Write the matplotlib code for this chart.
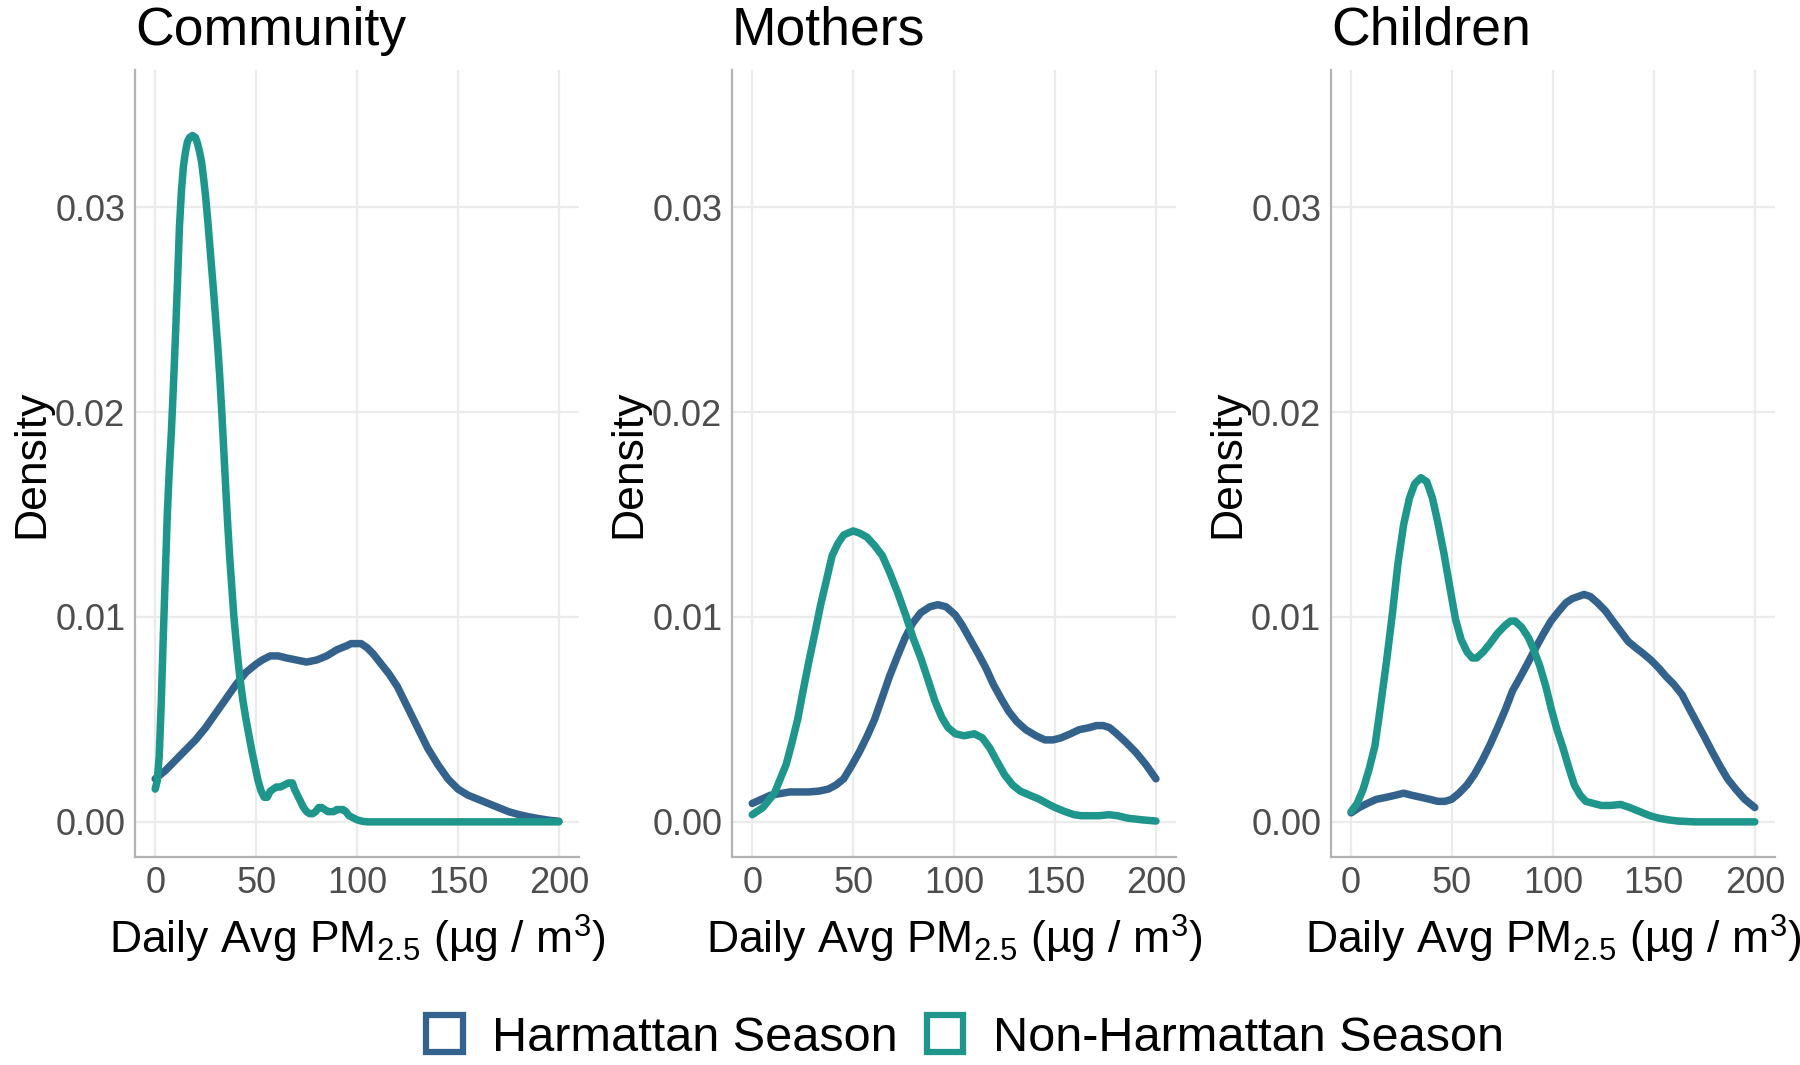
import matplotlib
matplotlib.use("Agg")
from matplotlib import pyplot as plt
from matplotlib.patches import Patch

plt.rcParams['font.family'] = ['Liberation Sans', 'DejaVu Sans']
plt.rcParams['mathtext.fontset'] = 'custom'
plt.rcParams['mathtext.rm'] = 'Liberation Sans'
plt.rcParams['mathtext.it'] = 'Liberation Sans:italic'

# density curves (x = PM2.5, y = density)
panels = ['Community', 'Mothers', 'Children']
seasons = ['Harmattan Season', 'Non-Harmattan Season']
colors = ['#33638D', '#1F968B']

community_harm_x = [0, 5, 10, 15, 20, 25, 30, 35, 40, 45, 50, 53, 57, 61, 65, 70, 75, 80, 85,
                    90, 95, 97, 100, 102, 105, 108, 112, 116, 120, 125, 130, 135, 140, 145, 150,
                    155, 160, 165, 170, 175, 180, 185, 190, 195, 200]
community_harm_y = [0.0021, 0.0025, 0.0030, 0.0035, 0.0040, 0.0046, 0.0053, 0.0060, 0.0067,
                    0.0073, 0.0077, 0.0079, 0.0081, 0.0081, 0.0080, 0.0079, 0.0078, 0.0079,
                    0.0081, 0.0084, 0.0086, 0.0087, 0.0087, 0.0087, 0.0085, 0.0082, 0.0077,
                    0.0072, 0.0066, 0.0056, 0.0046, 0.0036, 0.0028, 0.0021, 0.0016, 0.0013,
                    0.0011, 0.0009, 0.0007, 0.0005, 0.00036, 0.00025, 0.00016, 0.00008, 0.00003]
community_non_x = [0, 1, 2, 3, 4, 5, 6, 7, 8, 9, 10, 11, 12, 13, 14, 15, 16, 17, 18.5, 20, 21,
                   22, 23, 24, 25, 26, 27, 28, 29, 30, 31, 32, 33, 34, 35, 36, 37, 38, 39, 40.5,
                   42, 43.5, 45, 46.5, 48, 49.5, 51, 52.5, 54, 55.5, 57, 58.5, 60, 62, 64, 66,
                   67, 68, 69, 70.5, 72, 73.5, 75, 76.5, 78, 79.5, 81, 82.5, 84, 85.5, 87, 88.5,
                   90, 91.5, 93, 94.5, 96, 98, 100, 102.5, 105, 120, 150, 200]
community_non_y = [0.0016, 0.0020, 0.0032, 0.0058, 0.0090, 0.0120, 0.0150, 0.0172, 0.0190,
                   0.0212, 0.0236, 0.0262, 0.0290, 0.0308, 0.0320, 0.0327, 0.0332, 0.0334,
                   0.0335, 0.0334, 0.0331, 0.0327, 0.0322, 0.0314, 0.0305, 0.0294, 0.0282,
                   0.0270, 0.0258, 0.0245, 0.0232, 0.0217, 0.0200, 0.0181, 0.0162, 0.0144,
                   0.0128, 0.0114, 0.0100, 0.0084, 0.0070, 0.0059, 0.0050, 0.0042, 0.0034,
                   0.0027, 0.0020, 0.0015, 0.0012, 0.0012, 0.0015, 0.0016, 0.0017, 0.0017,
                   0.0018, 0.0019, 0.0019, 0.0019, 0.0016, 0.0013, 0.0010, 0.0007, 0.0005,
                   0.0004, 0.0004, 0.0005, 0.0007, 0.0007, 0.0006, 0.0005, 0.0005, 0.0005,
                   0.0006, 0.0006, 0.0006, 0.0005, 0.0003, 0.0002, 0.0001, 0.00003, 0.0, 0.0,
                   0.0, 0.0]

mothers_harm_x = [0, 9, 18.7, 28, 33, 37.7, 41.5, 45.3, 49, 53, 57, 60.6, 64.5, 68, 72, 75.8,
                  79.5, 83.4, 88, 92, 96, 100.6, 104, 108, 112, 115.8, 119.5, 123.4, 127, 131,
                  135.5, 140.6, 145, 149, 153, 157.7, 162, 167, 170.5, 173.9, 177, 180.6, 185,
                  190, 195, 200]
mothers_harm_y = [0.0009, 0.0013, 0.00146, 0.00146, 0.0015, 0.0016, 0.0018, 0.0021, 0.0027,
                  0.0034, 0.0042, 0.0050, 0.0061, 0.0071, 0.0081, 0.0090, 0.0097, 0.0102,
                  0.0105, 0.0106, 0.0105, 0.0101, 0.0096, 0.0089, 0.0082, 0.0075, 0.0067,
                  0.0060, 0.0054, 0.0049, 0.0045, 0.0042, 0.0040, 0.0040, 0.0041, 0.0043,
                  0.0045, 0.0046, 0.0047, 0.0047, 0.0046, 0.0043, 0.0039, 0.0034, 0.0028,
                  0.0021]
mothers_non_x = [0, 5.3, 11, 16.8, 19.5, 22.5, 25, 28, 31, 33.9, 37, 39.6, 42.5, 45.3, 47.5,
                 50, 53, 56.8, 60.5, 64.4, 68, 72, 76, 79.6, 83.5, 87.2, 90.5, 93.9, 97, 100.6,
                 105, 110, 114, 117.7, 121, 125, 129, 132.8, 137.5, 142.3, 146, 150, 155,
                 159.4, 163, 167, 172, 176.6, 181, 186, 193, 200]
mothers_non_y = [0.00035, 0.0007, 0.0014, 0.0028, 0.0038, 0.0050, 0.0063, 0.0078, 0.0092,
                 0.0106, 0.0119, 0.0130, 0.0136, 0.0140, 0.0141, 0.0142, 0.0141, 0.0139,
                 0.0135, 0.0130, 0.0122, 0.0112, 0.0101, 0.0090, 0.0080, 0.0069, 0.0059,
                 0.0051, 0.0046, 0.0043, 0.0042, 0.0043, 0.0041, 0.0036, 0.0030, 0.0023,
                 0.0018, 0.0015, 0.0013, 0.0011, 0.0009, 0.0007, 0.0005, 0.00035, 0.0003,
                 0.0003, 0.0003, 0.00035, 0.0003, 0.00018, 0.0001, 0.00004]

children_harm_x = [0, 4, 8, 12.5, 17.5, 22, 26, 30, 34.6, 39, 43, 46.5, 49.8, 53.5, 57.4, 61,
                   65, 69, 72.6, 76.5, 80, 84, 87.8, 91.5, 95.4, 99, 103, 106.5, 109.7, 112.5,
                   115.4, 118.5, 122, 126, 129.7, 133.5, 137.3, 141, 144.9, 148.5, 152.5, 156,
                   160, 164, 167.7, 171.5, 175.3, 179, 182.9, 186.5, 190.5, 195, 200]
children_harm_y = [0.00044, 0.0007, 0.0009, 0.0011, 0.0012, 0.0013, 0.0014, 0.0013, 0.0012,
                   0.0011, 0.0010, 0.0010, 0.0011, 0.0014, 0.0018, 0.0023, 0.0030, 0.0038,
                   0.0046, 0.0055, 0.0064, 0.0071, 0.0078, 0.0085, 0.0092, 0.0098, 0.0103,
                   0.0107, 0.0109, 0.0110, 0.0111, 0.0110, 0.0107, 0.0103, 0.0098, 0.0093,
                   0.0088, 0.0085, 0.0082, 0.0079, 0.0075, 0.0071, 0.0067, 0.0062, 0.0055,
                   0.0048, 0.0041, 0.0034, 0.0027, 0.0021, 0.0016, 0.0011, 0.0007]
children_non_x = [0, 3, 6, 9, 11.8, 14.5, 17.5, 20.5, 23.2, 26, 28.9, 31.5, 34.6, 37.5, 40.3,
                  43, 46, 49, 51.7, 54.5, 57.4, 60, 62.2, 65.5, 68.8, 72.5, 76.4, 79, 81.2,
                  84.5, 87.8, 90.5, 93.5, 96.5, 99.2, 102, 105, 108, 110.6, 113.5, 116.3, 120,
                  124, 128.5, 133.5, 138, 143, 148, 152.5, 157, 162, 170, 180, 200]
children_non_y = [0.0005, 0.0009, 0.0016, 0.0026, 0.0037, 0.0056, 0.0078, 0.0102, 0.0126,
                  0.0145, 0.0158, 0.0165, 0.0168, 0.0166, 0.0158, 0.0146, 0.0131, 0.0114,
                  0.0099, 0.0089, 0.0083, 0.0080, 0.0080, 0.0083, 0.0087, 0.0092, 0.0096,
                  0.0098, 0.0098, 0.0095, 0.0090, 0.0084, 0.0076, 0.0066, 0.0055, 0.0045,
                  0.0036, 0.0026, 0.0018, 0.0013, 0.0010, 0.0009, 0.0008, 0.0008, 0.00085,
                  0.0007, 0.0005, 0.0003, 0.00018, 0.0001, 0.00004, 0.0, 0.0, 0.0]

curves = {
    'Community': [(community_harm_x, community_harm_y), (community_non_x, community_non_y)],
    'Mothers': [(mothers_harm_x, mothers_harm_y), (mothers_non_x, mothers_non_y)],
    'Children': [(children_harm_x, children_harm_y), (children_non_x, children_non_y)],
}

x_ticks = [0, 50, 100, 150, 200]
y_ticks = [0.00, 0.01, 0.02, 0.03]
y_ticklabels = ['0.00', '0.01', '0.02', '0.03']

fig = plt.figure(figsize=(18, 10.65), dpi=100)
lefts = [0.075, 0.4067, 0.7394]
for left, name in zip(lefts, panels):
    ax = fig.add_axes([left, 0.1956, 0.2467, 0.7387])
    for (xs, ys), c in zip(curves[name], colors):
        ax.plot(xs, ys, color=c, lw=5.4, solid_capstyle='round', solid_joinstyle='round')
    ax.set_xlim(-10, 210)
    ax.set_ylim(-0.0017, 0.0367)
    ax.set_xticks(x_ticks)
    ax.set_yticks(y_ticks)
    ax.set_yticklabels(y_ticklabels)
    ax.grid(True, color='#EBEBEB', lw=1.6)
    ax.set_axisbelow(True)
    for s in ['top', 'right']:
        ax.spines[s].set_visible(False)
    for s in ['left', 'bottom']:
        ax.spines[s].set_color('#B3B3B3')
        ax.spines[s].set_linewidth(1.6)
    ax.tick_params(length=0, labelsize=26, labelcolor='#4D4D4D', pad=7)
    ax.set_title(name, loc='left', fontsize=38.5, pad=18)
    ax.set_xlabel('Daily Avg PM$_{2.5}$ (µg / m$^{3}$)', fontsize=32, labelpad=8)
    ax.set_ylabel('Density', fontsize=32, labelpad=2)

handles = [Patch(facecolor='white', edgecolor=c, linewidth=4.5) for c in colors]
fig.legend(handles, seasons, loc='center', bbox_to_anchor=(965 / 1800, 1 - 1038 / 1065),
           ncol=2, frameon=False, fontsize=35, handlelength=0.75, handleheight=0.8,
           handletextpad=0.6, columnspacing=0.6)

fig.savefig('out.png', dpi=100)
